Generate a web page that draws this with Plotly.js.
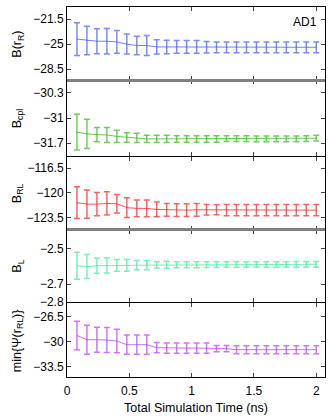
<!DOCTYPE html>
<html>
<head>
<meta charset="utf-8">
<script src="https://cdn.plot.ly/plotly-3.0.1.min.js"></script>
<style>
  html, body { margin: 0; padding: 0; background: #fff; }
  #chart { width: 332px; height: 418px; }
</style>
</head>
<body>
<div id="chart"></div>
<script>
// Simulation time (ns)
const time = [0.08, 0.16, 0.24, 0.32, 0.40, 0.48, 0.56, 0.64, 0.72, 0.80,
              0.88, 0.96, 1.04, 1.12, 1.20, 1.28, 1.36, 1.44, 1.52, 1.60,
              1.68, 1.76, 1.84, 1.92, 2.00];

// B(r_R)
const bR = [-24.3, -24.5, -24.6, -24.6, -24.7, -25.0, -25.2, -25.2, -25.4, -25.4,
            -25.4, -25.4, -25.4, -25.45, -25.45, -25.45, -25.45, -25.45, -25.45, -25.45,
            -25.45, -25.45, -25.45, -25.45, -25.45];
const bRErr = [2.3, 2.0, 1.75, 1.8, 1.6, 1.4, 1.3, 1.4, 1.0, 0.95,
               0.9, 0.9, 0.9, 0.8, 0.75, 0.75, 0.75, 0.75, 0.75, 0.75,
               0.75, 0.75, 0.75, 0.75, 0.75];

// B_cpl
const bCpl = [-31.39, -31.44, -31.46, -31.47, -31.51, -31.54, -31.55, -31.58, -31.58, -31.58,
              -31.58, -31.58, -31.58, -31.58, -31.58, -31.57, -31.57, -31.57, -31.58, -31.58,
              -31.58, -31.58, -31.58, -31.57, -31.56];
const bCplErr = [0.5, 0.41, 0.2, 0.21, 0.17, 0.13, 0.13, 0.1, 0.1, 0.1,
                 0.09, 0.09, 0.09, 0.09, 0.09, 0.08, 0.08, 0.08, 0.08, 0.08,
                 0.08, 0.08, 0.08, 0.08, 0.08];

// B_RL
const bRL = [-121.4, -121.6, -121.6, -121.5, -121.55, -122.1, -122.2, -122.2, -122.35, -122.4,
             -122.45, -122.45, -122.4, -122.4, -122.4, -122.45, -122.45, -122.45, -122.45, -122.45,
             -122.45, -122.45, -122.45, -122.45, -122.45];
const bRLErr = [2.25, 2.0, 1.65, 1.65, 1.3, 1.4, 1.2, 1.2, 1.05, 0.9,
                0.9, 0.9, 0.9, 0.75, 0.7, 0.8, 0.8, 0.8, 0.8, 0.8,
                0.8, 0.8, 0.8, 0.8, 0.8];

// B_L
const bL = [-2.595, -2.6, -2.595, -2.593, -2.593, -2.593, -2.592, -2.592, -2.59, -2.59,
            -2.59, -2.589, -2.589, -2.589, -2.589, -2.588, -2.588, -2.588, -2.588, -2.588,
            -2.588, -2.588, -2.587, -2.587, -2.587];
const bLErr = [0.076, 0.068, 0.043, 0.043, 0.033, 0.033, 0.026, 0.026, 0.018, 0.02,
               0.017, 0.017, 0.017, 0.016, 0.016, 0.016, 0.016, 0.016, 0.016, 0.016,
               0.016, 0.016, 0.016, 0.016, 0.016];

// min{Psi(r_RL)}
const psiMin = [-29.16, -29.76, -29.76, -29.8, -29.95, -30.46, -30.46, -30.46, -30.88, -30.93,
                -30.93, -30.93, -30.93, -30.93, -31.02, -31.02, -31.16, -31.16, -31.16, -31.16,
                -31.16, -31.16, -31.16, -31.16, -31.16];
const psiMinErr = [2.0, 2.05, 1.75, 1.75, 1.65, 1.35, 1.35, 1.35, 0.72, 0.72,
                   0.72, 0.72, 0.72, 0.72, 0.44, 0.44, 0.56, 0.56, 0.56, 0.56,
                   0.56, 0.56, 0.56, 0.56, 0.56];

// Axis tick labels
const xTicks = [0, 0.5, 1, 1.5, 2];
const xTickText = ['0', '0.5', '1', '1.5', '2'];

const panels = [
    { y: bR, err: bRErr, label: 'B(r<sub>R</sub>)', color: '60,90,255',
      range: [-30.1, -19.8], ticks: [-28.5, -25, -21.5], tickText: ['\u221228.5', '\u221225', '\u221221.5'],
      domain: [0.8015, 1] },
    { y: bCpl, err: bCplErr, label: 'B<sub>cpl</sub>', color: '50,185,20',
      range: [-32.06, -29.95], ticks: [-31.7, -31, -30.3], tickText: ['\u221231.7', '\u221231', '\u221230.3'],
      domain: [0.597, 0.8015] },
    { y: bRL, err: bRLErr, label: 'B<sub>RL</sub>', color: '255,30,30',
      range: [-125.2, -114.9], ticks: [-123.5, -120, -116.5], tickText: ['\u2212123.5', '\u2212120', '\u2212116.5'],
      domain: [0.3985, 0.595] },
    { y: bL, err: bLErr, label: 'B<sub>L</sub>', color: '60,235,160',
      range: [-2.8, -2.39], ticks: [-2.8, -2.7, -2.5], tickText: ['\u22122.8', '\u22122.7', '\u22122.5'],
      domain: [0.203, 0.3985] },
    { y: psiMin, err: psiMinErr, label: 'min{\u03A8(r<sub>RL</sub>)}', color: '185,60,255',
      range: [-35, -24.65], ticks: [-33.5, -30, -26.5], tickText: ['\u221233.5', '\u221230', '\u221226.5'],
      domain: [0, 0.199] }
];

const font = { family: 'Liberation Sans, Arial, sans-serif', size: 12, color: '#000' };

const traces = [];
const layout = {
    width: 332,
    height: 418,
    margin: { l: 67, r: 7, t: 7, b: 41 },
    paper_bgcolor: '#fff',
    plot_bgcolor: '#fff',
    showlegend: false,
    font: font,
    annotations: [],
    shapes: []
};

panels.forEach((p, i) => {
    const n = i === 0 ? '' : String(i + 1);
    traces.push({
        x: time,
        y: p.y,
        xaxis: 'x' + n,
        yaxis: 'y' + n,
        type: 'scatter',
        mode: 'lines',
        line: { color: 'rgba(' + p.color + ',0.75)', width: 1 },
        error_y: {
            type: 'data',
            array: p.err,
            visible: true,
            color: 'rgba(' + p.color + ',0.7)',
            thickness: 1.5,
            width: 3
        },
        hoverinfo: 'skip'
    });

    layout['xaxis' + n] = {
        domain: [0, 1],
        anchor: 'y' + n,
        range: [0, 2.07],
        tickmode: 'array',
        tickvals: xTicks,
        ticktext: xTickText,
        showticklabels: i === 4,
        ticks: 'inside',
        ticklen: 4,
        ticklabelstandoff: 3,
        showline: true,
        mirror: 'ticks',
        linecolor: '#000',
        linewidth: 1,
        showgrid: false,
        zeroline: false,
        tickfont: { size: 12 }
    };
    layout['yaxis' + n] = {
        domain: p.domain,
        anchor: 'x' + n,
        range: p.range,
        tickmode: 'array',
        tickvals: p.ticks,
        ticktext: p.tickText,
        ticks: 'inside',
        ticklen: 4,
        showline: true,
        mirror: 'ticks',
        linecolor: '#000',
        linewidth: 1,
        showgrid: false,
        zeroline: false,
        tickfont: { size: 12 }
    };

    layout.annotations.push({
        text: p.label,
        xref: 'paper',
        yref: 'paper',
        x: -0.19,
        y: (p.domain[0] + p.domain[1]) / 2,
        xanchor: 'center',
        yanchor: 'middle',
        textangle: -90,
        showarrow: false,
        font: { size: 12.5 }
    });
});

layout.xaxis5.title = { text: 'Total Simulation Time (ns)', font: { size: 12.5 }, standoff: 5 };

layout.annotations.push({
    text: 'AD1',
    xref: 'paper',
    yref: 'paper',
    x: 0.975,
    y: 0.985,
    xanchor: 'right',
    yanchor: 'top',
    showarrow: false,
    font: { size: 12 }
});

// thick grey seams between panels, as in the original figure
[0.8015, 0.3985].forEach(yv => {
    layout.shapes.push({
        type: 'line',
        xref: 'paper',
        yref: 'paper',
        x0: 0, x1: 1,
        y0: yv, y1: yv,
        line: { color: '#808080', width: 3 }
    });
});

Plotly.newPlot('chart', traces, layout, { staticPlot: true });
</script>
</body>
</html>
